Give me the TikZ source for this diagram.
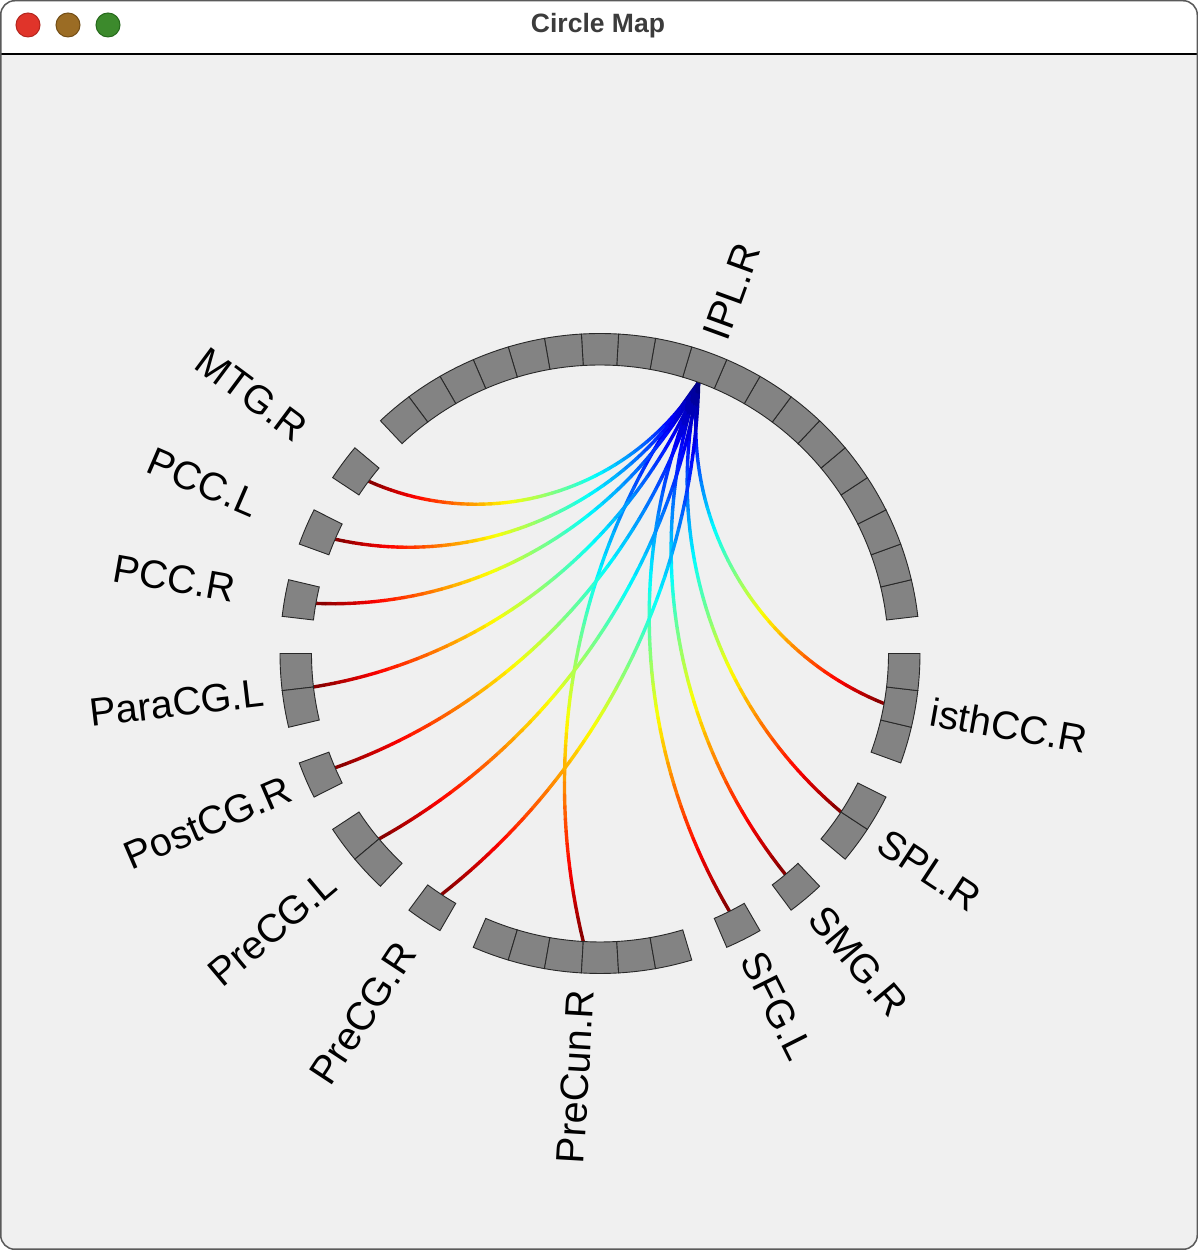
\documentclass[tikz,border=0pt]{standalone}
\usepackage{fontspec}
\setmainfont{Liberation Sans}
\usetikzlibrary{calc}
\definecolor{winbg}{RGB}{240,240,240}
\definecolor{segfill}{RGB}{131,131,131}
\definecolor{segline}{RGB}{40,40,40}
\definecolor{titlecol}{RGB}{60,60,60}
\definecolor{tlred}{RGB}{224,52,42}
\definecolor{tlredb}{RGB}{180,38,30}
\definecolor{tlbrown}{RGB}{155,108,36}
\definecolor{tlbrownb}{RGB}{115,78,22}
\definecolor{tlgreen}{RGB}{60,138,44}
\definecolor{tlgreenb}{RGB}{38,105,28}
\definecolor{frame}{RGB}{90,90,90}

\tikzset{
  segment/.style={fill=segfill, draw=segline, line width=0.9pt},
  conn/.style={line width=3.4pt, line cap=round},
  lab/.style={font=\fontsize{39.5}{47}\selectfont, inner sep=0pt},
  light/.style={circle, minimum size=24pt, inner sep=0pt, line width=1pt},
}

% gradient connector from (IPL) to #1 ; #2 = ccw angle from IPL to target
\newcommand\gradconn[2]{%
  \pgfmathsetmacro\myChord{2*288.5*abs(sin((#2)/2))}%
  \pgfmathsetmacro\myBendA{2*atan(2*64/\myChord)}%
  \pgfmathsetmacro\myBend{((#2)<180) ? \myBendA : (0-\myBendA)}%
  \pgfmathsetmacro\myNBend{0-(\myBend)}%
  \pgfmathsetmacro\myFac{1/(3*cos(\myBendA/2)^2)}%
  \coordinate (ca) at ($(IPL)!\myFac!\myBend:(#1)$);
  \coordinate (cb) at ($(#1)!\myFac!\myNBend:(IPL)$);
  \foreach \k in {1,...,48}{%
    \pgfmathsetmacro\tA{(\k-1)/48}%
    \pgfmathsetmacro\tB{\k/48}%
    \pgfmathsetmacro\tM{(\k-0.5)/48}%
    \pgfmathsetmacro\jr{max(0,min(1,1.5-abs(4*\tM-3)))}%
    \pgfmathsetmacro\jg{max(0,min(1,1.5-abs(4*\tM-2)))}%
    \pgfmathsetmacro\jb{max(0,min(1,1.5-abs(4*\tM-1)))}%
    \definecolor{segc}{rgb}{\jr,\jg,\jb}%
    \path (IPL) .. controls (ca) and (cb) .. (#1) coordinate[pos=\tA] (qa) coordinate[pos=\tB] (qb);
    \draw[conn, segc] (qa) -- (qb);
  }%
}

\begin{document}
\begin{tikzpicture}[x=1pt,y=1pt]
\useasboundingbox (0,0) rectangle (1198,1250);
\fill[white] (0,0) rectangle (1198,1250);
% window
\begin{scope}
  \clip[rounded corners=14pt] (0.75,0.75) rectangle (1197.25,1249.25);
  \fill[winbg] (0,0) rectangle (1198,1250);
  \fill[white] (0,1196) rectangle (1198,1250);
  \draw[black, line width=2.2pt] (0,1196) -- (1198,1196);
\end{scope}
\draw[frame, line width=1.5pt, rounded corners=14pt] (0.75,0.75) rectangle (1197.25,1249.25);

% title bar
\node[light, fill=tlred, draw=tlredb] (btnclose) at (28,1225) {};
\node[light, fill=tlbrown, draw=tlbrownb] (btnmin) at (68,1225) {};
\node[light, fill=tlgreen, draw=tlgreenb] (btnmax) at (108,1225) {};
\node[font=\bfseries\fontsize{26.5}{31}\selectfont, text=titlecol] (title) at (598,1224) {Circle Map};

% centre and connection points
\coordinate (O) at (600,596.5);
\coordinate (IPL) at ($(O)+(70:288.5)$);
\coordinate (MTGR) at ($(O)+(143.3333:288.5)$);
\coordinate (PCCL) at ($(O)+(156.6667:288.5)$);
\coordinate (PCCR) at ($(O)+(170:288.5)$);
\coordinate (ParaCGL) at ($(O)+(186.6667:288.5)$);
\coordinate (PostCGR) at ($(O)+(203.3333:288.5)$);
\coordinate (PreCGL) at ($(O)+(220:288.5)$);
\coordinate (PreCGR) at ($(O)+(236.6667:288.5)$);
\coordinate (PreCunR) at ($(O)+(266.6667:288.5)$);
\coordinate (SFGL) at ($(O)+(296.6667:288.5)$);
\coordinate (SMGR) at ($(O)+(310:288.5)$);
\coordinate (SPLR) at ($(O)+(326.6667:288.5)$);
\coordinate (isthCCR) at ($(O)+(350:288.5)$);

% connectors
\gradconn{isthCCR}{280}
\gradconn{SPLR}{256.6667}
\gradconn{SMGR}{240}
\gradconn{SFGL}{226.6667}
\gradconn{PreCunR}{196.6667}
\gradconn{PreCGR}{166.6667}
\gradconn{PreCGL}{150}
\gradconn{PostCGR}{133.3333}
\gradconn{ParaCGL}{116.6667}
\gradconn{PCCR}{100}
\gradconn{PCCL}{86.6667}
\gradconn{MTGR}{73.3333}

% ring segments
\foreach \st/\n in {6.66667/19,140/1,153.33333/1,166.66667/1,180/2,200/1,213.33333/2,233.33333/1,246.66667/6,293.33333/1,306.66667/1,320/2,340/3}{
  \foreach \k in {1,...,\n}{
    \pgfmathsetmacro\aa{\st+(\k-1)*6.666667}
    \pgfmathsetmacro\ab{\aa+6.666667}
    \draw[segment] ($(O)+(\aa:288.5)$) arc[start angle=\aa, end angle=\ab, radius=288.5]
      -- ($(O)+(\ab:320)$) arc[start angle=\ab, end angle=\aa, radius=320] -- cycle;
  }
}

% labels, right side
\node[lab, anchor=west, rotate=70] (lIPL) at ($(O)+(70:336)$) {IPL.R};
\node[lab, anchor=west, rotate=296.6667] (lSFG) at ($(O)+(296.6667:337)$) {SFG.L};
\node[lab, anchor=west, rotate=310] (lSMG) at ($(O)+(310:337)$) {SMG.R};
\node[lab, anchor=west, rotate=326.6667] (lSPL) at ($(O)+(326.6667:337)$) {SPL.R};
\node[lab, anchor=west, rotate=350] (listh) at ($(O)+(350:336)$) {isthCC.R};
% labels, left side
\node[lab, rotate=-36.6667] (lMTG) at ($(O)+(143.3333:434)$) {MTG.R};
\node[lab, rotate=-23.3333] (lPCCL) at ($(O)+(156.6667:432)$) {PCC.L};
\node[lab, rotate=-10] (lPCCR) at ($(O)+(170:432)$) {PCC.R};
\node[lab, rotate=6.6667] (lPara) at ($(O)+(186.6667:426)$) {ParaCG.L};
\node[lab, rotate=23.3333] (lPost) at ($(O)+(203.3333:427)$) {PostCG.R};
\node[lab, rotate=40] (lPreCGL) at ($(O)+(220:428)$) {PreCG.L};
\node[lab, rotate=56.6667] (lPreCGR) at ($(O)+(236.6667:431)$) {PreCG.R};
\node[lab, rotate=86.6667] (lPreCun) at ($(O)+(266.6667:424)$) {PreCun.R};
\end{tikzpicture}
\end{document}
